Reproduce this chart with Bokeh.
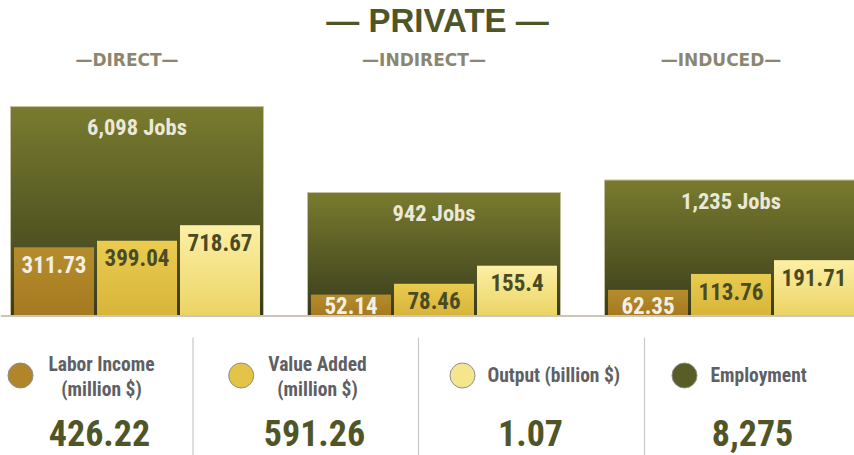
import numpy as np
from bokeh.plotting import figure
from bokeh.models import Range1d, LogScale, LinearScale, Span
from bokeh.embed import file_html
from bokeh.resources import INLINE
from bokeh.core.properties import value

# ---------------- data ----------------
groups = ["DIRECT", "INDIRECT", "INDUCED"]
jobs = [6098, 942, 1235]
labor_income = [311.73, 52.14, 62.35]      # million $
value_added = [399.04, 78.46, 113.76]      # million $
output = [718.67, 155.4, 191.71]           # million $ (total shown in billion $)

legend_titles = [["Labor Income", "(million $)"], ["Value Added", "(million $)"],
                 ["Output (billion $)"], ["Employment"]]

# ---------------- layout / style ----------------
W, H = 854, 455
NARROW = "'Roboto Condensed', 'DejaVu Sans Condensed', 'Liberation Sans Narrow', Roboto, sans-serif"
WIDE = "Liberation Sans"
OLIVE_TXT = "#4f5527"

GROUP_PX = 297.0                     # px between group centres
x_start = -136.5 / GROUP_PX
x_range = Range1d(x_start, x_start + W / GROUP_PX)

BASE_PX = 139.5                      # baseline height above plot bottom


def log_range(base, px_per_decade):
    return Range1d(base * 10 ** (-BASE_PX / px_per_decade),
                   base * 10 ** ((H - BASE_PX) / px_per_decade))


MONEY_BASE, MONEY_PPD = 23.2, 60.9
JOBS_BASE, JOBS_PPD = 64.2, 105.9

p = figure(width=W, height=H, x_range=x_range,
           y_range=log_range(MONEY_BASE, MONEY_PPD), y_axis_type="log",
           x_axis_location=None, y_axis_location=None,
           output_backend="svg", toolbar_location=None, min_border=0,
           outline_line_color=None, background_fill_color="white",
           border_fill_color="white")
p.grid.visible = False
p.extra_y_ranges = {"jobs": log_range(JOBS_BASE, JOBS_PPD), "page": Range1d(H, 0)}
p.extra_y_scales = {"jobs": LogScale(), "page": LinearScale()}
p.extra_x_ranges = {"page": Range1d(0, W)}


def gradient(bottom_hex, top_hex, n=256):
    b = np.array([int(bottom_hex[i:i + 2], 16) for i in (1, 3, 5)], float)
    t = np.array([int(top_hex[i:i + 2], 16) for i in (1, 3, 5)], float)
    f = np.linspace(0, 1, n)[:, None]
    rgb = b + (t - b) * f
    img = np.empty((n, 1), dtype=np.uint32)
    view = img.view(dtype=np.uint8).reshape((n, 1, 4))
    view[:, 0, :3] = np.round(rgb).astype(np.uint8)
    view[:, 0, 3] = 255
    return img


gx = np.arange(len(groups), dtype=float)

# big employment bars
BIG_W = 253 / GROUP_PX
big_img = gradient("#393c1b", "#797c2e")
p.image_rgba(image=[big_img] * len(groups), x=list(gx - BIG_W / 2),
             y=[JOBS_BASE] * len(groups), dw=[BIG_W] * len(groups),
             dh=[j - JOBS_BASE for j in jobs], y_range_name="jobs")
p.vbar(x=gx, width=BIG_W, bottom=JOBS_BASE, top=jobs, fill_alpha=0,
       line_color="#c4c1a2", line_width=1, y_range_name="jobs")

# small money bars
STEP = 83 / GROUP_PX
SW = 80 / GROUP_PX
series = [labor_income, value_added, output]
grads = [gradient("#a67a20", "#b58d2d"), gradient("#d8b53a", "#e9cc50"),
         gradient("#ebd465", "#fdf0a6")]
label_colors = ["#f2efe4", "#4a4b25", "#4a4b25"]
label_drop = [[17.2, 11.4, 16.1], [17.2, 17.2, 17.2], [17.2, 17.2, 17.2]]  # px below bar top

for k, (vals, img) in enumerate(zip(series, grads)):
    xs = gx + (k - 1) * STEP
    p.image_rgba(image=[img] * len(vals), x=list(xs - SW / 2), y=[MONEY_BASE] * len(vals),
                 dw=[SW] * len(vals), dh=[v - MONEY_BASE for v in vals])
    p.text(x=list(xs), y=vals, text=[f"{v:g}" for v in vals], y_offset=label_drop[k],
           text_align="center", text_baseline="middle", text_font=value(NARROW),
           text_font_style="bold", text_font_size="23px", text_color=label_colors[k])

# jobs labels
p.text(x=list(gx), y=jobs, text=[f"{j:,} Jobs" for j in jobs], y_offset=20.7,
       y_range_name="jobs", text_align="center", text_baseline="middle",
       text_font=value(NARROW), text_font_style="bold", text_font_size="22.5px",
       text_color="#ebe8d8")

# baseline
p.add_layout(Span(location=MONEY_BASE, dimension="width", line_color="#cbc6b8", line_width=2))

# titles
p.text(x=[437], y=[20], text=["— PRIVATE —"], x_range_name="page", y_range_name="page",
       text_align="center", text_baseline="middle", text_font=value(WIDE),
       text_font_style="bold", text_font_size="33px", text_color=OLIVE_TXT)
p.text(x=list(gx), y=[59] * len(groups), text=[f"—{g}—" for g in groups], x_offset=-10,
       y_range_name="page", text_align="center", text_baseline="middle",
       text_font=value("DejaVu Sans"), text_font_style="bold", text_font_size="17px",
       text_color="#8c8670")

# ---------------- bottom legend ----------------
totals = [f"{sum(labor_income):.2f}", f"{sum(value_added):.2f}",
          f"{sum(output) / 1000:.2f}", f"{sum(jobs):,}"]
leg_dot_x = [20, 240.7, 462, 684]
leg_dot_colors = ["#b08628", "#e3c449", "#f5e68d", "#585c25"]
p.scatter(x=leg_dot_x, y=[375] * 4, size=25, fill_color=leg_dot_colors,
          line_color="#8c8c8c", line_width=1, x_range_name="page", y_range_name="page")

div_x = [192.5, 418, 644]
p.segment(x0=div_x, y0=[337] * 3, x1=div_x, y1=[H] * 3, line_color="#c8c8c8",
          line_width=1.2, x_range_name="page", y_range_name="page")

# two-line labels (centered)
two_x = [101, 317]
for i, cx in enumerate(two_x):
    lines = legend_titles[i]
    p.text(x=[cx] * len(lines), y=[364, 388.5][:len(lines)], text=lines,
           x_range_name="page", y_range_name="page", text_align="center",
           text_baseline="middle", text_font=value(NARROW), text_font_style="bold",
           text_font_size="19.5px", text_color="#5e6064")
# single-line labels (left aligned)
p.text(x=[487, 710], y=[375, 375], text=[legend_titles[2][0], legend_titles[3][0]],
       x_range_name="page", y_range_name="page", text_align="left",
       text_baseline="middle", text_font=value(NARROW), text_font_style="bold",
       text_font_size="19.5px", text_color="#5e6064")

p.text(x=[99, 314, 530, 752], y=[432] * 4, text=totals, x_range_name="page",
       y_range_name="page", text_align="center", text_baseline="middle",
       text_font=value(NARROW), text_font_style="bold", text_font_size="36px",
       text_color=OLIVE_TXT)

open("out.html", "w").write(file_html(p, INLINE))
